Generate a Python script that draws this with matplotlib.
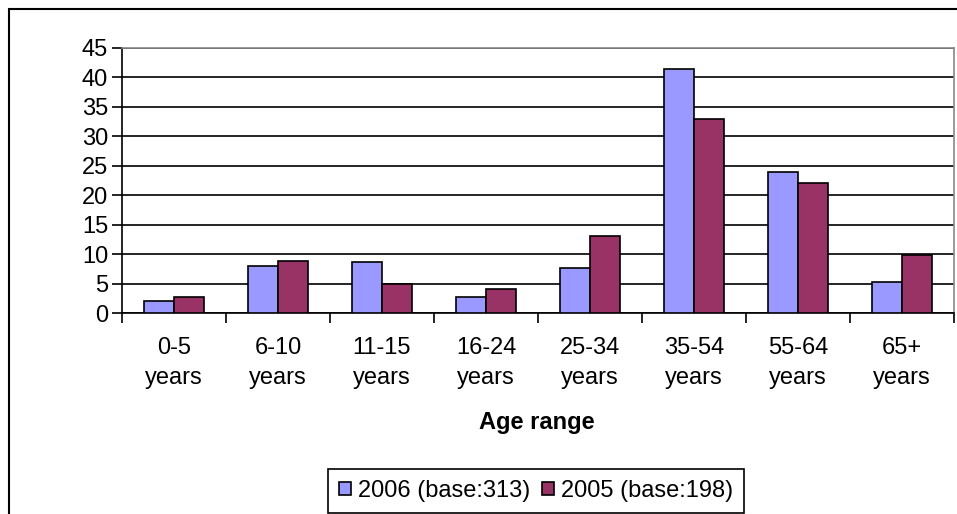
import numpy as np
import matplotlib
matplotlib.use("Agg")
import matplotlib.pyplot as plt
from matplotlib.patches import Rectangle

plt.rcParams['font.family'] = ['Liberation Sans', 'DejaVu Sans']

# data
age_ranges = ["0-5\nyears", "6-10\nyears", "11-15\nyears", "16-24\nyears",
              "25-34\nyears", "35-54\nyears", "55-64\nyears", "65+\nyears"]
pct_2006 = [2.1, 7.9, 8.6, 2.8, 7.7, 41.5, 23.9, 5.3]
pct_2005 = [2.8, 8.9, 5.0, 4.1, 13.1, 32.9, 22.0, 9.9]
series_names = ["2006 (base:313)", "2005 (base:198)"]
y_ticks = [0, 5, 10, 15, 20, 25, 30, 35, 40, 45]

W, H = 957, 514
fs = 17
fig = plt.figure(figsize=(W / 100, H / 100), dpi=100)
ax = fig.add_axes([122 / W, 1 - 313 / H, (954 - 122) / W, (313 - 48) / H])

x = np.arange(len(age_ranges))
bw = 0.29
b1 = ax.bar(x - bw / 2, pct_2006, bw, color="#9999ff", edgecolor="black",
            linewidth=1.2, label=series_names[0], zorder=3)
b2 = ax.bar(x + bw / 2, pct_2005, bw, color="#993366", edgecolor="black",
            linewidth=1.2, label=series_names[1], zorder=3)

ax.set_xlim(-0.5, len(age_ranges) - 0.5)
ax.set_ylim(0, 45)
ax.set_yticks(y_ticks)
ax.tick_params(axis="y", direction="out", length=7, width=1.2, labelsize=fs, pad=3)
ax.yaxis.grid(True, color="black", linewidth=1.2, zorder=0)
ax.set_axisbelow(True)

# category labels centred, tick marks at boundaries
ax.set_xticks(np.arange(len(age_ranges) + 1) - 0.5)
ax.set_xticklabels([])
ax.tick_params(axis="x", direction="out", length=7, width=1.2)
ax.set_xticks(x, minor=True)
ax.set_xticklabels(age_ranges, minor=True, fontsize=fs, linespacing=1.5)
ax.tick_params(axis="x", which="minor", length=0, pad=17)

for side in ["top", "right"]:
    ax.spines[side].set_color("#888888")
    ax.spines[side].set_linewidth(1.2)
for side in ["left", "bottom"]:
    ax.spines[side].set_color("black")
    ax.spines[side].set_linewidth(1.2)

fig.text(537 / W, 1 - 423 / H, "Age range", ha="center", va="center",
         fontsize=fs, fontweight="bold")

leg = fig.legend(handles=[b1, b2], loc="center", ncol=2,
                 bbox_to_anchor=(536 / W, 1 - 491 / H), fontsize=fs,
                 fancybox=False, framealpha=1, edgecolor="black",
                 handlelength=0.5, handleheight=0.5, handletextpad=0.3,
                 columnspacing=0.5, borderpad=0.45, borderaxespad=0)
leg.get_frame().set_linewidth(1.2)

fig.patches.append(Rectangle((9 / W, -0.1), 1.2, 1 - 9 / H + 0.1,
                             transform=fig.transFigure, fill=False,
                             edgecolor="black", linewidth=1.5))

fig.savefig("out.png", dpi=100)
